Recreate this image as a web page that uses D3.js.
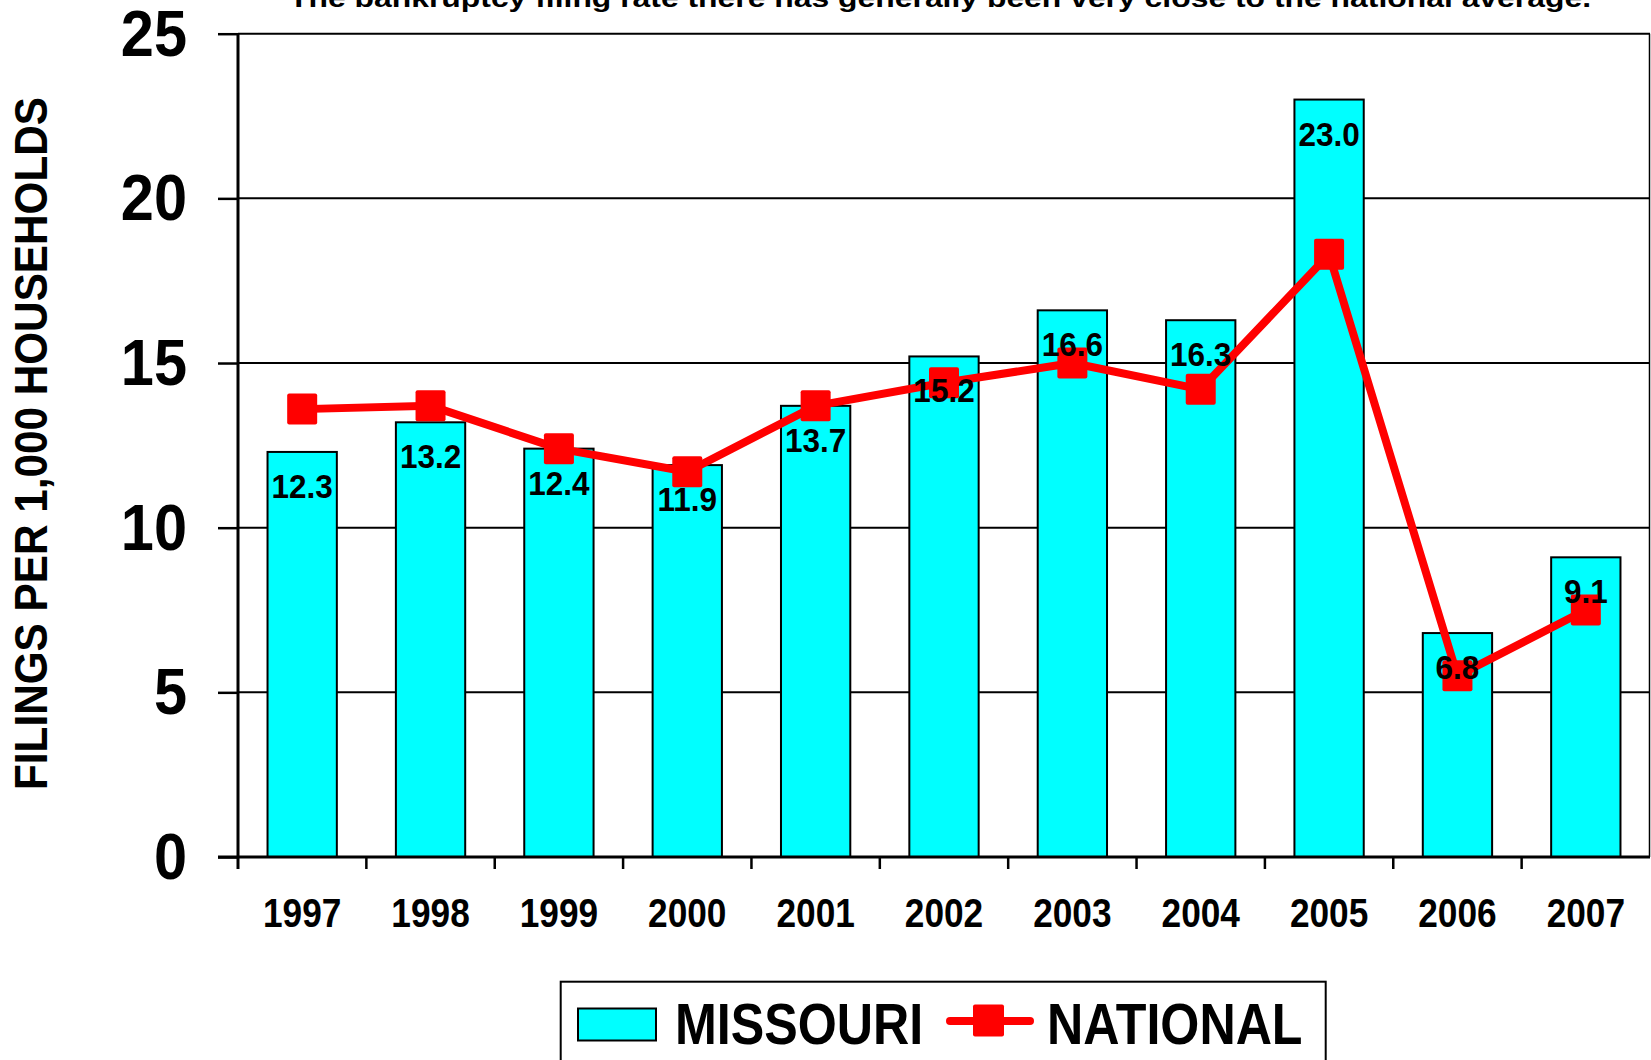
<!DOCTYPE html>
<html>
<head>
<meta charset="utf-8">
<script src="https://cdn.jsdelivr.net/npm/d3@7"></script>
<style>
  body { margin: 0; background: #fff; }
  text { font-family: Arial, "Liberation Sans", sans-serif; font-weight: bold; }
</style>
</head>
<body>
<div id="chart"></div>
<script>
// data
var years = ["1997", "1998", "1999", "2000", "2001", "2002", "2003", "2004", "2005", "2006", "2007"];
var missouri = [12.3, 13.2, 12.4, 11.9, 13.7, 15.2, 16.6, 16.3, 23.0, 6.8, 9.1];
var national = [13.6, 13.7, 12.4, 11.7, 13.7, 14.4, 15.0, 14.2, 18.3, 5.5, 7.5];
var yTicks = [0, 5, 10, 15, 20, 25];
var title = "The bankruptcy filing rate there has generally been very close to the national average.";
var yTitle = "FILINGS PER 1,000 HOUSEHOLDS";

/* params (note: "top" is a reserved window global, so plot* names) */
var width = 1651,
  height = 1060,
  plotLeft = 238,
  plotRight = 1650,
  plotTop = 33.7,
  plotBottom = 857,
  barColor = "#00ffff",
  lineColor = "#ff0000";

var svg = d3.select("#chart").append("svg")
  .attr("width", width).attr("height", height)
  .style("display", "block");

svg.append("rect").attr("width", width).attr("height", height).attr("fill", "#fff");

var x = d3.scaleBand().domain(years).range([plotLeft, plotRight]).padding(0);
var y = d3.scaleLinear().domain([0, 25]).range([plotBottom, plotTop]);
var barW = x.bandwidth() * 0.54;
var cx = function(d, i) { return x(years[i]) + x.bandwidth() / 2; };

// text squeezed horizontally like the source image
function squeezed(sel, px, py, size, sx, anchor) {
  return sel.append("text")
    .attr("transform", "translate(" + px + "," + py + ") scale(" + sx + ",1)")
    .attr("font-size", size)
    .attr("text-anchor", anchor || "middle");
}

// title (cut off at the top)
svg.append("text")
  .attr("x", 289).attr("y", 7)
  .attr("font-size", 26)
  .attr("textLength", 1302)
  .attr("lengthAdjust", "spacingAndGlyphs")
  .text(title);

// gridlines
svg.append("g").selectAll("line")
  .data(yTicks.filter(function(d) { return d > 0; }))
  .enter().append("line")
    .attr("x1", plotLeft).attr("x2", plotRight)
    .attr("y1", function(d) { return y(d); })
    .attr("y2", function(d) { return y(d); })
    .attr("stroke", "#000").attr("stroke-width", 2);

// right border of plot area
svg.append("line")
  .attr("x1", plotRight - 0.5).attr("x2", plotRight - 0.5)
  .attr("y1", y(25)).attr("y2", plotBottom)
  .attr("stroke", "#000").attr("stroke-width", 1.5);

// bars
svg.append("g").selectAll("rect")
  .data(missouri)
  .enter().append("rect")
    .attr("x", function(d, i) { return cx(d, i) - barW / 2; })
    .attr("y", function(d) { return y(d); })
    .attr("width", barW)
    .attr("height", function(d) { return plotBottom - y(d); })
    .attr("fill", barColor)
    .attr("stroke", "#000").attr("stroke-width", 2);

// y axis
var yAxis = d3.axisLeft(y).tickValues(yTicks).tickSize(20).tickFormat("");
var ga = svg.append("g").attr("transform", "translate(" + plotLeft + ",0)").call(yAxis);
ga.select(".domain").remove();
ga.selectAll(".tick line").attr("stroke", "#000").attr("stroke-width", 2.5);
svg.append("line")
  .attr("x1", plotLeft).attr("x2", plotLeft)
  .attr("y1", y(25)).attr("y2", plotBottom + 12)
  .attr("stroke", "#000").attr("stroke-width", 3);

yTicks.forEach(function(t) {
  squeezed(svg, 187, y(t) + 22, 64, 0.93, "end").text(t);
});

// x axis
svg.append("line")
  .attr("x1", plotLeft - 20).attr("x2", plotRight)
  .attr("y1", plotBottom).attr("y2", plotBottom)
  .attr("stroke", "#000").attr("stroke-width", 3);
svg.append("g").selectAll("line")
  .data(years.slice(1))
  .enter().append("line")
    .attr("x1", function(d) { return x(d); })
    .attr("x2", function(d) { return x(d); })
    .attr("y1", plotBottom).attr("y2", plotBottom + 12)
    .attr("stroke", "#000").attr("stroke-width", 2.5);

years.forEach(function(yr, i) {
  squeezed(svg, cx(null, i), 927, 40.5, 0.87).text(yr);
});

// national line
var line = d3.line()
  .x(function(d, i) { return cx(d, i); })
  .y(function(d) { return y(d); });

svg.append("path")
  .datum(national)
  .attr("d", line)
  .attr("fill", "none")
  .attr("stroke", lineColor)
  .attr("stroke-width", 8)
  .attr("stroke-linejoin", "round");

svg.append("g").selectAll("rect")
  .data(national)
  .enter().append("rect")
    .attr("x", function(d, i) { return cx(d, i) - 15; })
    .attr("y", function(d) { return y(d) - 15.5; })
    .attr("width", 30).attr("height", 31)
    .attr("rx", 2)
    .attr("fill", lineColor);

// bar value labels
missouri.forEach(function(v, i) {
  squeezed(svg, cx(v, i), y(v) + 46, 33.5, 0.94).text(v.toFixed(1));
});

// y axis title
svg.append("text")
  .attr("transform", "translate(47,443.5) rotate(-90)")
  .attr("text-anchor", "middle")
  .attr("font-size", 46)
  .attr("textLength", 693)
  .attr("lengthAdjust", "spacingAndGlyphs")
  .text(yTitle);

// legend
var legend = svg.append("g");
legend.append("rect")
  .attr("x", 560.7).attr("y", 981.7)
  .attr("width", 765).attr("height", 120)
  .attr("fill", "#fff")
  .attr("stroke", "#000").attr("stroke-width", 2);
legend.append("rect")
  .attr("x", 578).attr("y", 1008.5)
  .attr("width", 78).attr("height", 32)
  .attr("fill", barColor)
  .attr("stroke", "#000").attr("stroke-width", 2);
squeezed(legend, 675, 1044, 57.7, 0.87, "start").text("MISSOURI");
legend.append("line")
  .attr("x1", 950).attr("x2", 1030)
  .attr("y1", 1021).attr("y2", 1021)
  .attr("stroke", lineColor).attr("stroke-width", 8)
  .attr("stroke-linecap", "round");
legend.append("rect")
  .attr("x", 973).attr("y", 1004.5)
  .attr("width", 31).attr("height", 32)
  .attr("rx", 2)
  .attr("fill", lineColor);
squeezed(legend, 1047, 1044, 57.7, 0.87, "start").text("NATIONAL");
</script>
</body>
</html>
